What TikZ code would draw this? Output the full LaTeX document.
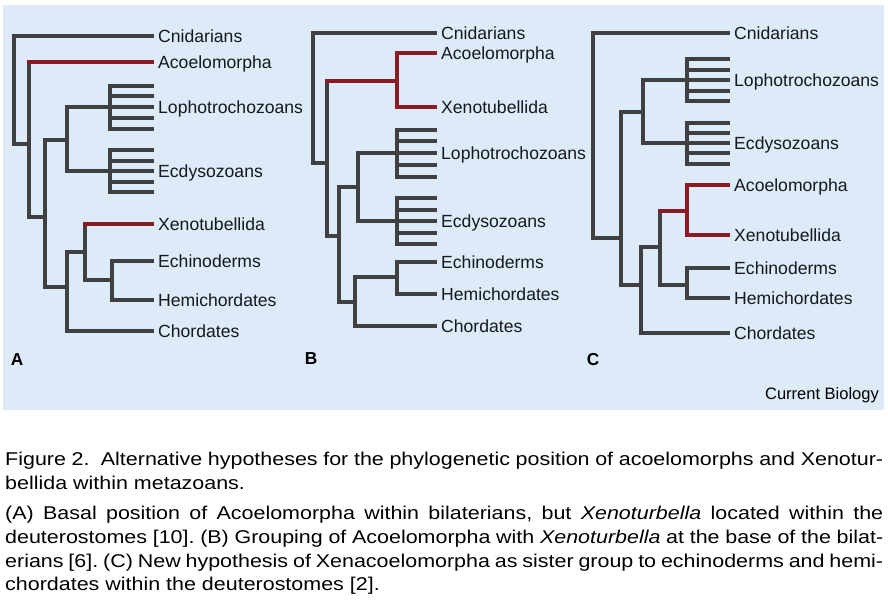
\documentclass[tikz,border=0pt]{standalone}
\usepackage{fontspec}
\setmainfont{Liberation Sans}
\newfontfamily\capfont{Liberation Sans}[FakeStretch=1.16]
\usetikzlibrary{calc}
\definecolor{panelBlue}{RGB}{221, 234, 248}
\definecolor{branchGray}{RGB}{64, 64, 66}
\definecolor{branchRed}{RGB}{139, 26, 36}
\definecolor{labelInk}{RGB}{22, 24, 32}
\frenchspacing

\begin{document}
\begin{tikzpicture}[
    x=1pt, y=-1pt,
    branch/.style={
        line width=4pt,
        line cap=rect,
        color=branchGray
    },
    redbranch/.style={
        line width=4pt,
        line cap=rect,
        color=branchRed
    },
    taxon/.style={
        anchor=west,
        inner xsep=6pt,
        inner ysep=0pt,
        text height=14pt,
        text depth=2pt,
        font=\fontsize{17.6}{20}\selectfont,
        text=labelInk
    },
    panel/.style={
        inner sep=0pt,
        font=\fontsize{17.3}{20}\selectfont\bfseries
    },
    capline/.style={
        anchor=base west,
        inner sep=0pt,
        font=\capfont\fontsize{18.5}{22}\selectfont
    }
]
\useasboundingbox (0,0) rectangle (888,605);
\fill[panelBlue] (3,5) rectangle (884,410);

% A - basal Acoelomorpha, Xenoturbella in deuterostomes
\node[taxon] (aCni) at (152,36) {Cnidarians};
\node[taxon] (aAco) at (152,62) {Acoelomorpha};
\node[taxon] (aLop) at (152,107) {Lophotrochozoans};
\node[taxon] (aEcd) at (152,171) {Ecdysozoans};
\node[taxon] (aXen) at (152,224) {Xenotubellida};
\node[taxon] (aEch) at (152,261) {Echinoderms};
\node[taxon] (aHem) at (152,300) {Hemichordates};
\node[taxon] (aCho) at (152,331) {Chordates};
\coordinate (a0) at (14,90);
\coordinate (a1) at (29,144);
\coordinate (a2) at (45,217);
\coordinate (aP) at (67,140);
\coordinate (aL) at (110,107);
\coordinate (aE) at (110,171);
\coordinate (aD) at (67,287);
\coordinate (a4) at (85,252);
\coordinate (a5) at (112,280);

\draw[branch] (aCni.west) -| (a0) |- (a1);
\draw[branch] (a1 |- aAco) -- (a1) |- (a2);
\draw[redbranch] (a1 |- aAco) -- (aAco.west);
\draw[branch] (aP) -| (a2) |- (aD);
\draw[branch] (aL) -| (aP) |- (aE);
\draw[branch] ($(aL)+(0,-21.5)$) -- ($(aL)+(0,21.5)$);
\draw[branch] ($(aE)+(0,-21)$) -- ($(aE)+(0,21)$);
\foreach \k in {-2,...,2} {
    \draw[branch] ($(aL)+(0,\k*10.75)$) -- ($(aLop.west)+(0,\k*10.75)$);
    \draw[branch] ($(aE)+(0,\k*10.5)$) -- ($(aEcd.west)+(0,\k*10.5)$);
}
\draw[branch] (a4) -| (aD) |- (aCho.west);
\draw[branch] (a4 |- aXen) -- (a4) |- (a5);
\draw[redbranch] (a4 |- aXen) -- (aXen.west);
\draw[branch] (aEch.west) -| (a5) |- (aHem.west);
\node[panel] (aTag) at (17,360) {A};

% B - Acoelomorpha + Xenoturbella at the base
\node[taxon] (bCni) at (435,33) {Cnidarians};
\node[taxon] (bAco) at (435,53) {Acoelomorpha};
\node[taxon] (bXen) at (435,107) {Xenotubellida};
\node[taxon] (bLop) at (435,153) {Lophotrochozoans};
\node[taxon] (bEcd) at (435,221) {Ecdysozoans};
\node[taxon] (bEch) at (435,262) {Echinoderms};
\node[taxon] (bHem) at (435,294) {Hemichordates};
\node[taxon] (bCho) at (435,326) {Chordates};
\coordinate (b0) at (313,100);
\coordinate (b1) at (327,163);
\coordinate (bX) at (397,81);
\coordinate (b2) at (339,236);
\coordinate (bP) at (358,187);
\coordinate (bL) at (397,153);
\coordinate (bE) at (397,221);
\coordinate (bD) at (355,302);
\coordinate (b5) at (397,277);

\draw[branch] (bCni.west) -| (b0) |- (b1);
\draw[branch] (b1 |- bX) -- (b1) |- (b2);
\draw[redbranch] (bX) -- (b1 |- bX);
\draw[redbranch] (bAco.west) -| (bX) |- (bXen.west);
\draw[branch] (bP) -| (b2) |- (bD);
\draw[branch] (bL) -| (bP) |- (bE);
\draw[branch] ($(bL)+(0,-23.5)$) -- ($(bL)+(0,23.5)$);
\draw[branch] ($(bE)+(0,-23)$) -- ($(bE)+(0,23)$);
\foreach \k in {-2,...,2} {
    \draw[branch] ($(bL)+(0,\k*11.75)$) -- ($(bLop.west)+(0,\k*11.75)$);
    \draw[branch] ($(bE)+(0,\k*11.5)$) -- ($(bEcd.west)+(0,\k*11.5)$);
}
\draw[branch] (b5) -| (bD) |- (bCho.west);
\draw[branch] (bEch.west) -| (b5) |- (bHem.west);
\node[panel] (bTag) at (311,359) {B};

% C - Xenacoelomorpha sister to Ambulacraria
\node[taxon] (cCni) at (728,33) {Cnidarians};
\node[taxon] (cLop) at (728,80) {Lophotrochozoans};
\node[taxon] (cEcd) at (728,143) {Ecdysozoans};
\node[taxon] (cAco) at (728,185) {Acoelomorpha};
\node[taxon] (cXen) at (728,235) {Xenotubellida};
\node[taxon] (cEch) at (728,268) {Echinoderms};
\node[taxon] (cHem) at (728,298) {Hemichordates};
\node[taxon] (cCho) at (728,333) {Chordates};
\coordinate (c0) at (593,100);
\coordinate (c1) at (621,238);
\coordinate (cP) at (643,112);
\coordinate (cL) at (687,80);
\coordinate (cE) at (687,143);
\coordinate (c2) at (641,285);
\coordinate (c3) at (660,247);
\coordinate (cX) at (687,211);
\coordinate (c5) at (687,285);

\draw[branch] (cCni.west) -| (c0) |- (c1);
\draw[branch] (cP) -| (c1) |- (c2);
\draw[branch] (cL) -| (cP) |- (cE);
\draw[branch] ($(cL)+(0,-21)$) -- ($(cL)+(0,21)$);
\draw[branch] ($(cE)+(0,-20.5)$) -- ($(cE)+(0,20.5)$);
\foreach \k in {-2,...,2} {
    \draw[branch] ($(cL)+(0,\k*10.5)$) -- ($(cLop.west)+(0,\k*10.5)$);
    \draw[branch] ($(cE)+(0,\k*10.25)$) -- ($(cEcd.west)+(0,\k*10.25)$);
}
\draw[branch] (c3) -| (c2) |- (cCho.west);
\draw[branch] (c3 |- cX) -- (c3) |- (c5);
\draw[redbranch] (c3 |- cX) -- (cX);
\draw[redbranch] (cAco.west) -| (cX) |- (cXen.west);
\draw[branch] (cEch.west) -| (c5) |- (cHem.west);
\node[panel] (cTag) at (593,360) {C};

\node[anchor=east, inner sep=0pt, font=\fontsize{16.5}{20}\selectfont] (journal) at (879,395) {Current Biology};

% Caption
\node[capline] (cap1) at (5,465) {\makebox[878pt][s]{Figure 2.\ \ Alternative hypotheses for the phylogenetic position of acoelomorphs and Xenotur-}};
\node[capline] (cap2) at (5,489) {bellida within metazoans.};
\node[capline] (cap3) at (5,519) {\makebox[878pt][s]{(A) Basal position of Acoelomorpha within bilaterians, but \textit{Xenoturbella} located within the}};
\node[capline] (cap4) at (5,543) {\makebox[878pt][s]{deuterostomes [10]. (B) Grouping of Acoelomorpha with \textit{Xenoturbella} at the base of the bilat-}};
\node[capline] (cap5) at (5,567) {\makebox[878pt][s]{erians [6]. (C) New hypothesis of Xenacoelomorpha as sister group to echinoderms and hemi-}};
\node[capline] (cap6) at (5,590) {chordates within the deuterostomes [2].};

\end{tikzpicture}
\end{document}
